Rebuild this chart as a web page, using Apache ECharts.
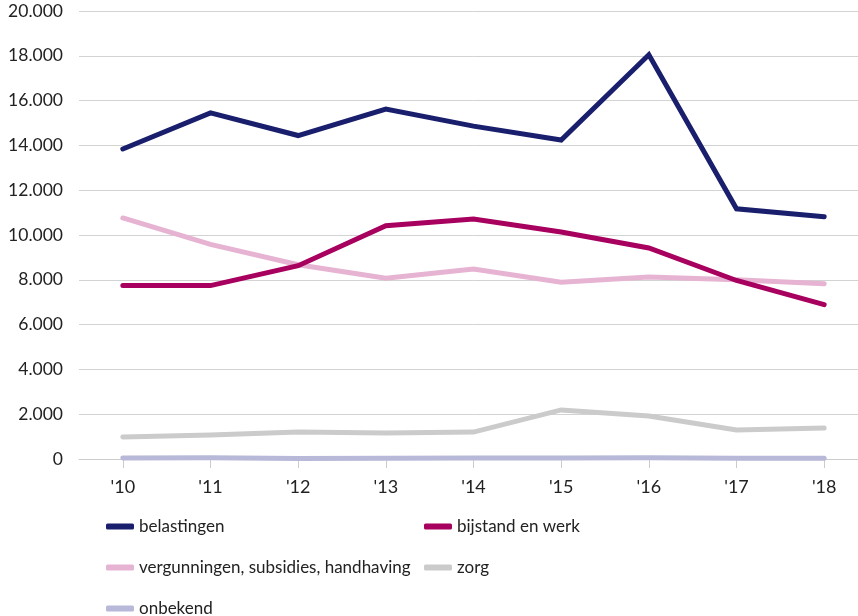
<!DOCTYPE html>
<html>
<head>
<meta charset="utf-8">
<script src="https://cdn.jsdelivr.net/npm/echarts@6/dist/echarts.min.js"></script>
<style>
  html, body { margin: 0; padding: 0; background: #fff; overflow: hidden; }
  #chart { width: 870px; height: 616px; }
</style>
</head>
<body>
<div id="chart"></div>
<script>
const years = ["'10", "'11", "'12", "'13", "'14", "'15", "'16", "'17", "'18"];
const belastingen = [13840, 15450, 14440, 15620, 14860, 14240, 18050, 11170, 10810];
const bijstand = [7740, 7740, 8630, 10410, 10710, 10130, 9420, 7970, 6890];
const vergunningen = [10760, 9580, 8670, 8070, 8480, 7890, 8120, 8000, 7820];
const zorg = [980, 1070, 1200, 1160, 1200, 2190, 1920, 1300, 1380];
const onbekend = [50, 60, 20, 30, 40, 50, 60, 30, 30];
const yTicks = [0, 2000, 4000, 6000, 8000, 10000, 12000, 14000, 16000, 18000, 20000];

const font = 'Lato, "Noto Sans", sans-serif';
const colors = ['#1a1f6d', '#a8005f', '#e6b4d2', '#cbcbcb', '#b8b9d8'];

function fmt(v) {
  return String(v).replace(/\B(?=(\d{3})+(?!\d))/g, '.');
}

function line(name, data, color) {
  return {
    name: name,
    type: 'line',
    data: data,
    symbol: 'none',
    color: color,
    lineStyle: { width: 5, color: color, cap: 'round', join: 'miter' },
    emphasis: { disabled: true },
    animation: false
  };
}

const legendBase = {
  orient: 'vertical',
  itemWidth: 28,
  itemHeight: 6,
  itemGap: 24,
  height: 140,
  icon: 'roundRect',
  textStyle: { fontFamily: font, fontSize: 17, color: '#222' },
  selectedMode: false
};

const chart = echarts.init(document.getElementById('chart'));
chart.setOption({
  backgroundColor: '#fff',
  grid: { left: 79, width: 789, top: 11, height: 448, containLabel: false },
  xAxis: {
    type: 'category',
    data: years,
    boundaryGap: true,
    axisLine: { show: true, lineStyle: { color: '#cccccc', width: 1 } },
    axisTick: { show: true, alignWithLabel: true, length: 9, lineStyle: { color: '#cccccc' } },
    axisLabel: { fontFamily: font, fontSize: 18, color: '#222', margin: 19 }
  },
  yAxis: {
    type: 'value',
    min: yTicks[0],
    max: yTicks[yTicks.length - 1],
    interval: 2000,
    axisLine: { show: false },
    axisTick: { show: false },
    splitLine: { lineStyle: { color: '#d3d3d3', width: 1 } },
    axisLabel: { fontFamily: font, fontSize: 17.5, color: '#222', margin: 16, formatter: fmt }
  },
  legend: [
    Object.assign({}, legendBase, {
      left: 101, top: 513,
      data: ['belastingen', 'vergunningen, subsidies, handhaving', 'onbekend']
    }),
    Object.assign({}, legendBase, {
      left: 419, top: 513,
      data: ['bijstand en werk', 'zorg']
    })
  ],
  series: [
    line('onbekend', onbekend, colors[4]),
    line('zorg', zorg, colors[3]),
    line('vergunningen, subsidies, handhaving', vergunningen, colors[2]),
    line('bijstand en werk', bijstand, colors[1]),
    line('belastingen', belastingen, colors[0])
  ]
});
</script>
</body>
</html>
